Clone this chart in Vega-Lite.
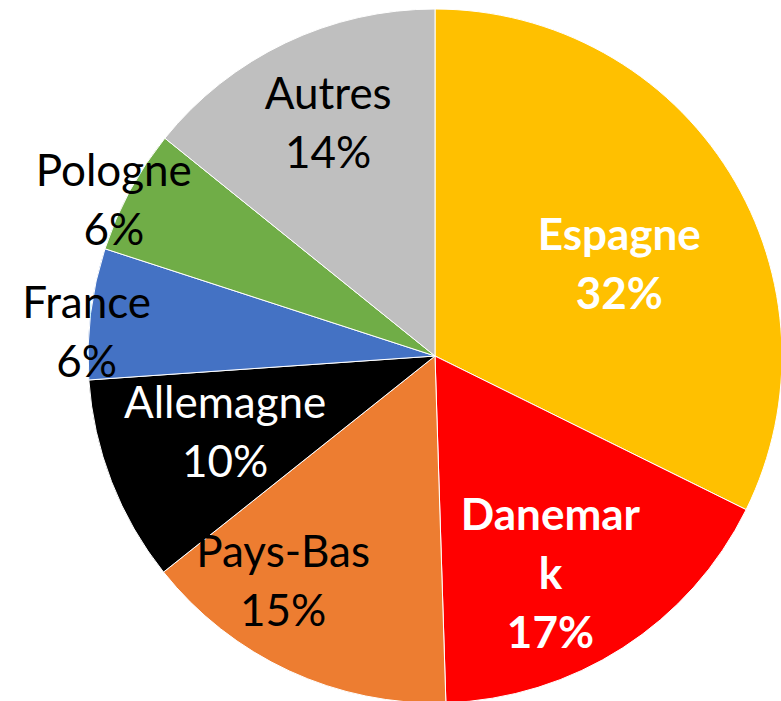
{
  "$schema": "https://vega.github.io/schema/vega-lite/v6.json",
  "autosize": "none",
  "padding": {"left": 88, "top": 9, "right": 0, "bottom": 0},
  "width": 694,
  "height": 694,
  "background": "white",
  "view": {"stroke": null},
  "data": {
    "values": [
      {"pays": "Espagne", "part": 32.3, "ordre": 1},
      {"pays": "Danemark", "part": 17.2, "ordre": 2},
      {"pays": "Pays-Bas", "part": 14.8, "ordre": 3},
      {"pays": "Allemagne", "part": 9.6, "ordre": 4},
      {"pays": "France", "part": 6.1, "ordre": 5},
      {"pays": "Pologne", "part": 5.8, "ordre": 6},
      {"pays": "Autres", "part": 14.2, "ordre": 7}
    ]
  },
  "transform": [
    {"calculate": "datum.pays === 'Danemark' ? 'Danemar\\nk\\n' + round(datum.part) + '%' : datum.pays + '\\n' + round(datum.part) + '%'", "as": "etiquette"},
    {"window": [{"op": "sum", "field": "part", "as": "cumul"}], "sort": [{"field": "ordre", "order": "ascending"}], "frame": [null, 0]},
    {"calculate": "datum.cumul - datum.part / 2", "as": "milieu"}
  ],
  "layer": [
    {
      "mark": {"type": "arc", "stroke": "white", "strokeWidth": 1},
      "encoding": {
        "theta": {"field": "part", "type": "quantitative", "stack": true, "scale": {"domain": [0, 100]}},
        "order": {"field": "ordre", "type": "quantitative"},
        "color": {
          "field": "pays", "type": "nominal", "legend": null,
          "scale": {
            "domain": ["Espagne", "Danemark", "Pays-Bas", "Allemagne", "France", "Pologne", "Autres"],
            "range": ["#FFC000", "#FF0000", "#ED7D31", "#000000", "#4472C4", "#70AD47", "#BFBFBF"]
          }
        }
      }
    },
    {
      "transform": [{"filter": "datum.pays === 'Espagne'"}],
      "mark": {"type": "text", "radius": 204, "dx": 11, "dy": -11, "font": "Lato", "fontSize": 44, "fontWeight": "bold", "fill": "white", "lineBreak": "\n", "lineHeight": 59, "baseline": "middle", "align": "center"},
      "encoding": {"theta": {"field": "milieu", "type": "quantitative", "stack": null}, "text": {"field": "etiquette"}}
    },
    {
      "transform": [{"filter": "datum.pays === 'Danemark'"}],
      "mark": {"type": "text", "radius": 241, "dx": -15, "dy": -42, "font": "Lato", "fontSize": 44, "fontWeight": "bold", "fill": "white", "lineBreak": "\n", "lineHeight": 59, "baseline": "middle", "align": "center"},
      "encoding": {"theta": {"field": "milieu", "type": "quantitative", "stack": null}, "text": {"field": "etiquette"}}
    },
    {
      "transform": [{"filter": "datum.pays === 'Pays-Bas'"}],
      "mark": {"type": "text", "radius": 271, "dx": -38, "dy": -48, "font": "Lato", "fontSize": 44, "fill": "black", "lineBreak": "\n", "lineHeight": 59, "baseline": "middle", "align": "center"},
      "encoding": {"theta": {"field": "milieu", "type": "quantitative", "stack": null}, "text": {"field": "etiquette"}}
    },
    {
      "transform": [{"filter": "datum.pays === 'Allemagne'"}],
      "mark": {"type": "text", "radius": 223, "dx": -2, "dy": -32, "font": "Lato", "fontSize": 44, "fill": "white", "lineBreak": "\n", "lineHeight": 59, "baseline": "middle", "align": "center"},
      "encoding": {"theta": {"field": "milieu", "type": "quantitative", "stack": null}, "text": {"field": "etiquette"}}
    },
    {
      "transform": [{"filter": "datum.pays === 'France'"}],
      "mark": {"type": "text", "radius": 352, "dx": 1, "dy": -8, "font": "Lato", "fontSize": 44, "fill": "black", "lineBreak": "\n", "lineHeight": 59, "baseline": "middle", "align": "center"},
      "encoding": {"theta": {"field": "milieu", "type": "quantitative", "stack": null}, "text": {"field": "etiquette"}}
    },
    {
      "transform": [{"filter": "datum.pays === 'Pologne'"}],
      "mark": {"type": "text", "radius": 371, "dx": 5, "dy": -6, "font": "Lato", "fontSize": 44, "fill": "black", "lineBreak": "\n", "lineHeight": 59, "baseline": "middle", "align": "center"},
      "encoding": {"theta": {"field": "milieu", "type": "quantitative", "stack": null}, "text": {"field": "etiquette"}}
    },
    {
      "transform": [{"filter": "datum.pays === 'Autres'"}],
      "mark": {"type": "text", "radius": 280, "dx": 14, "dy": -7, "font": "Lato", "fontSize": 44, "fill": "black", "lineBreak": "\n", "lineHeight": 59, "baseline": "middle", "align": "center"},
      "encoding": {"theta": {"field": "milieu", "type": "quantitative", "stack": null}, "text": {"field": "etiquette"}}
    }
  ]
}
